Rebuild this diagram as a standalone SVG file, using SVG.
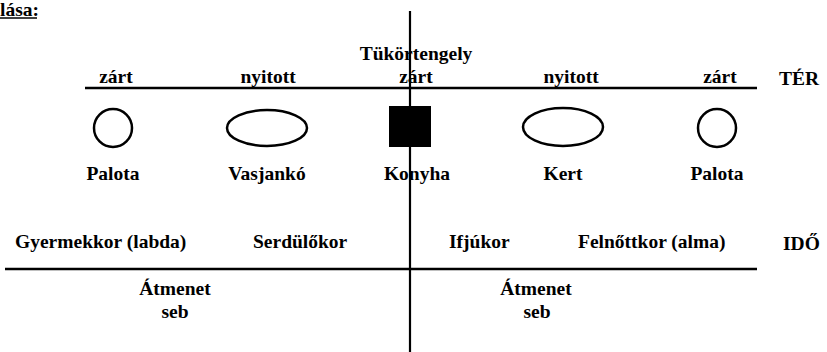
<svg xmlns="http://www.w3.org/2000/svg" width="827" height="352" viewBox="0 0 827 352">
<style>
text{font-family:'Liberation Serif','Times New Roman',serif;font-weight:bold;font-size:19.5px;fill:#000}
.m{text-anchor:middle}
.ln{stroke:#000;stroke-width:2.5;fill:none}
.sh{stroke:#000;stroke-width:2.5;fill:#fff}
</style>
<rect width="827" height="352" fill="#fff"/>
<g id="header">
<text x="0" y="16" font-size="18">lása:</text>
<line x1="0" y1="18" x2="37" y2="18" stroke="#000" stroke-width="1.5"/>
</g>
<g id="connectors">
<line class="ln" x1="85" y1="88" x2="757" y2="88"/>
<line class="ln" x1="5" y1="269" x2="757" y2="269"/>
</g>
<g id="ter-labels">
<text class="m" x="116" y="83">zárt</text>
<text class="m" x="268" y="83">nyitott</text>
<text class="m" x="416" y="83">zárt</text>
<text class="m" x="571" y="83">nyitott</text>
<text class="m" x="720" y="83">zárt</text>
<text x="779" y="85">TÉR</text>
</g>
<g id="palota-left">
<circle class="sh" cx="113" cy="128" r="19"/>
<text class="m" x="113" y="180">Palota</text>
</g>
<g id="vasjanko">
<ellipse class="sh" cx="267" cy="128" rx="40" ry="18"/>
<text class="m" x="267" y="180">Vasjankó</text>
</g>
<g id="konyha">
<rect x="389" y="106" width="42" height="41" fill="#000"/>
<text class="m" x="417" y="180">Konyha</text>
</g>
<g id="kert">
<ellipse class="sh" cx="563" cy="127" rx="40" ry="19"/>
<text class="m" x="563" y="180">Kert</text>
</g>
<g id="palota-right">
<circle class="sh" cx="717" cy="128" r="19"/>
<text class="m" x="717" y="180">Palota</text>
</g>
<g id="ido-labels">
<text x="15" y="248">Gyermekkor (labda)</text>
<text x="253" y="248">Serdülőkor</text>
<text x="449" y="248">Ifjúkor</text>
<text x="578" y="248">Felnőttkor (alma)</text>
<text x="783" y="250">IDŐ</text>
</g>
<g id="atmenet-left">
<text class="m" x="175" y="295">Átmenet</text>
<text class="m" x="175" y="318">seb</text>
</g>
<g id="atmenet-right">
<text class="m" x="536" y="295">Átmenet</text>
<text class="m" x="537" y="318">seb</text>
</g>
<g id="tukortengely">
<line x1="410" y1="11" x2="410" y2="352" stroke="#000" stroke-width="2.2"/>
<text class="m" x="416" y="60">Tükörtengely</text>
</g>
</svg>
